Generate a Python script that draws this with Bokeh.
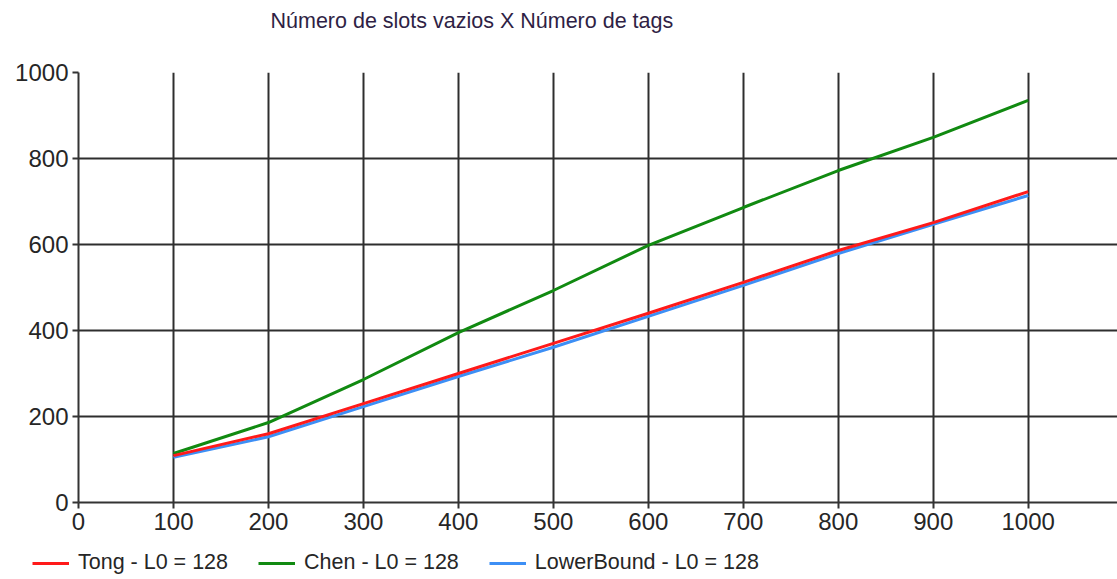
from bokeh.plotting import figure
from bokeh.layouts import column, row
from bokeh.models import Range1d, FixedTicker, Legend, LegendItem, Label
from bokeh.embed import file_html
from bokeh.resources import INLINE

# ---- data ----
tags = [100, 200, 300, 400, 500, 600, 700, 800, 900, 1000]
tong = [109, 160, 230, 300, 370, 440, 512, 586, 651, 723]
chen = [114, 186, 286, 395, 493, 598, 686, 772, 849, 935]
lower_bound = [105, 153, 223, 293, 361, 433, 505, 579, 647, 714]
series_labels = ["Tong - L0 = 128", "Chen - L0 = 128", "LowerBound - L0 = 128"]
series_colors = ["#ff1a1a", "#118a11", "#3d8ff5"]
x_ticks = [0, 100, 200, 300, 400, 500, 600, 700, 800, 900, 1000]
y_ticks = [0, 200, 400, 600, 800, 1000]
chart_title = "Número de slots vazios X Número de tags"

FONT = "Liberation Sans"
TXT = "#262626"

# ---- title strip ----
tt = figure(width=1117, height=40, output_backend="svg", toolbar_location=None,
            x_range=Range1d(0, 1117), y_range=Range1d(0, 40),
            x_axis_type=None, y_axis_type=None,
            min_border_left=0, min_border_right=0, min_border_top=0,
            min_border_bottom=0)
tt.outline_line_color = None
tt.xgrid.visible = False
tt.ygrid.visible = False
tt.border_fill_color = "white"
tt.add_layout(Label(x=270, y=20, text=chart_title, text_align="left",
                    text_baseline="middle", text_font=FONT,
                    text_font_size="21.5px", text_color="#2f1f45"))

# ---- main chart ----
p = figure(width=1117, height=506, output_backend="svg", toolbar_location=None,
           x_range=Range1d(0, 1094), y_range=Range1d(0, 1000),
           min_border_left=78, min_border_right=0, min_border_top=32,
           min_border_bottom=44)
p.outline_line_color = None
p.background_fill_color = "white"
p.border_fill_color = "white"

for ax in (p.xaxis[0], p.yaxis[0]):
    ax.axis_line_color = "#333333"
    ax.axis_line_width = 2
    ax.major_tick_line_color = "#333333"
    ax.major_tick_line_width = 2
    ax.major_tick_out = 6
    ax.major_tick_in = 0
    ax.minor_tick_line_color = None
    ax.major_label_text_font = FONT
    ax.major_label_text_font_size = "24px"
    ax.major_label_text_color = TXT
    ax.major_label_standoff = 4

p.xaxis.ticker = FixedTicker(ticks=x_ticks)
p.yaxis.ticker = FixedTicker(ticks=y_ticks)

p.xgrid.ticker = FixedTicker(ticks=x_ticks)
p.ygrid.ticker = FixedTicker(ticks=y_ticks)
for g in (p.xgrid[0], p.ygrid[0]):
    g.grid_line_color = "#2e2e2e"
    g.grid_line_width = 2

p.line(tags, chen, line_color=series_colors[1], line_width=3)
p.line(tags, lower_bound, line_color=series_colors[2], line_width=3)
p.line(tags, tong, line_color=series_colors[0], line_width=3)

# ---- legend strip below the chart (its lines lie outside its visible range) ----
lg = figure(width=1117, height=33, output_backend="svg", toolbar_location=None,
            x_range=Range1d(0, 1), y_range=Range1d(0, 1),
            x_axis_type=None, y_axis_type=None,
            min_border_left=0, min_border_right=0, min_border_top=0,
            min_border_bottom=0)
lg.outline_line_color = None
lg.xgrid.visible = False
lg.ygrid.visible = False
lg.border_fill_color = "white"
lr_tong = lg.line(tags, tong, line_color=series_colors[0], line_width=3)
lr_chen = lg.line(tags, chen, line_color=series_colors[1], line_width=3)
lr_low = lg.line(tags, lower_bound, line_color=series_colors[2], line_width=3)

legend = Legend(items=[LegendItem(label=series_labels[0], renderers=[lr_tong]),
                       LegendItem(label=series_labels[1], renderers=[lr_chen]),
                       LegendItem(label=series_labels[2], renderers=[lr_low])],
                orientation="horizontal", location=(32, 4),
                label_text_font=FONT, label_text_font_size="21.5px",
                label_text_color=TXT, glyph_width=37, glyph_height=20,
                label_standoff=9, spacing=30, padding=0, margin=0,
                border_line_color=None, background_fill_alpha=0)
lg.add_layout(legend, "center")

layout = column(row(tt), p, row(lg), spacing=0)
open("out.html", "w").write(file_html(layout, INLINE))
